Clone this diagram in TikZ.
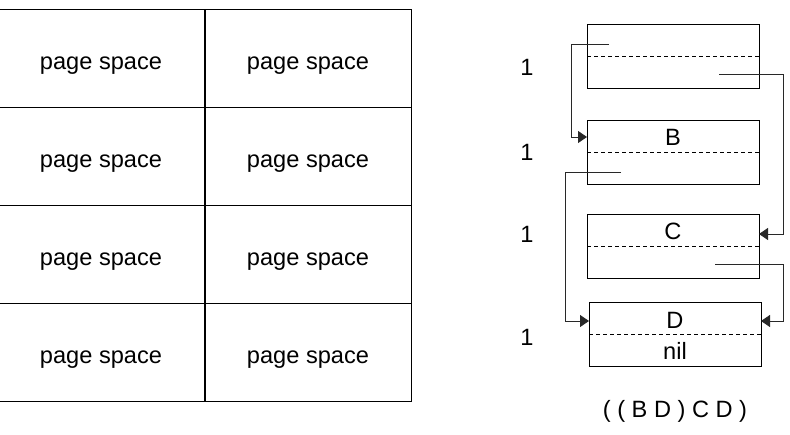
\documentclass[tikz,border=0pt]{standalone}
\usepackage{fontspec}
\setmainfont{Liberation Sans}
\usepackage{tikz}
\usetikzlibrary{arrows.meta, positioning, calc}
\definecolor{linegray}{RGB}{40, 40, 40}
\tikzset{
  lbl/.style={font=\fontsize{23.6}{26}\selectfont, inner sep=0pt},
  pagecell/.style={lbl, draw=black, line width=1pt, minimum width=206pt, minimum height=98pt, outer sep=0pt, text height=27pt, text depth=5pt},
  consbox/.style={draw=black, line width=1pt, minimum width=172pt, minimum height=64pt, outer sep=0pt},
  splitline/.style={dashed, line width=0.8pt, dash pattern=on 4pt off 3pt},
  ptr/.style={-{Triangle[length=9pt, width=12pt]}, line width=1pt, linegray},
}
\begin{document}
\begin{tikzpicture}[x=1pt, y=-1pt]
  \useasboundingbox (0,0) rectangle (790,434);
  % page grid
  \foreach \r in {0,...,3} {
    \node[pagecell] (p\r0) at (101, 58+98*\r) {page space};
    \node[pagecell] (p\r1) at (308, 58+98*\r) {page space};
  }
  % list cells
  \node[consbox] (top) at (673,56) {};
  \node[consbox] (b) at (673,152) {};
  \node[consbox] (c) at (673,246) {};
  \node[consbox] (d) at (675,334) {};
  \foreach \n in {top,b,c,d} \draw[splitline] (\n.west) -- (\n.east);
  \node[lbl] (tb) at ([yshift=15pt]b.center) {B};
  \node[lbl] (tc) at ([yshift=15pt]c.center) {C};
  \node[lbl] (td) at ([yshift=14pt]d.center) {D};
  \node[lbl] (tnil) at ([yshift=-17pt]d.center) {nil};
  % counts
  \node[lbl] (n1) at (527,67) {1};
  \node[lbl] (n2) at (527,152) {1};
  \node[lbl] (n3) at (527,234) {1};
  \node[lbl] (n4) at (527,337) {1};
  \node[lbl] (expr) at (675,411) {( ( B D ) C D )};
  % pointers
  \coordinate (car1) at (609,44);
  \coordinate (cdr1) at (719,74);
  \coordinate (car2) at (621,172);
  \coordinate (cdr3) at (715,264);
  \draw[ptr] (car1) -- ++(-38,0) |- ([yshift=15pt]b.west);
  \draw[ptr] (cdr1) -- ++(64,0) |- ([yshift=12pt]c.east);
  \draw[ptr] (car2) -- ++(-56,0) |- ([yshift=13pt]d.west);
  \draw[ptr] (cdr3) -- ++(68,0) |- ([yshift=13pt]d.east);
\end{tikzpicture}
\end{document}
